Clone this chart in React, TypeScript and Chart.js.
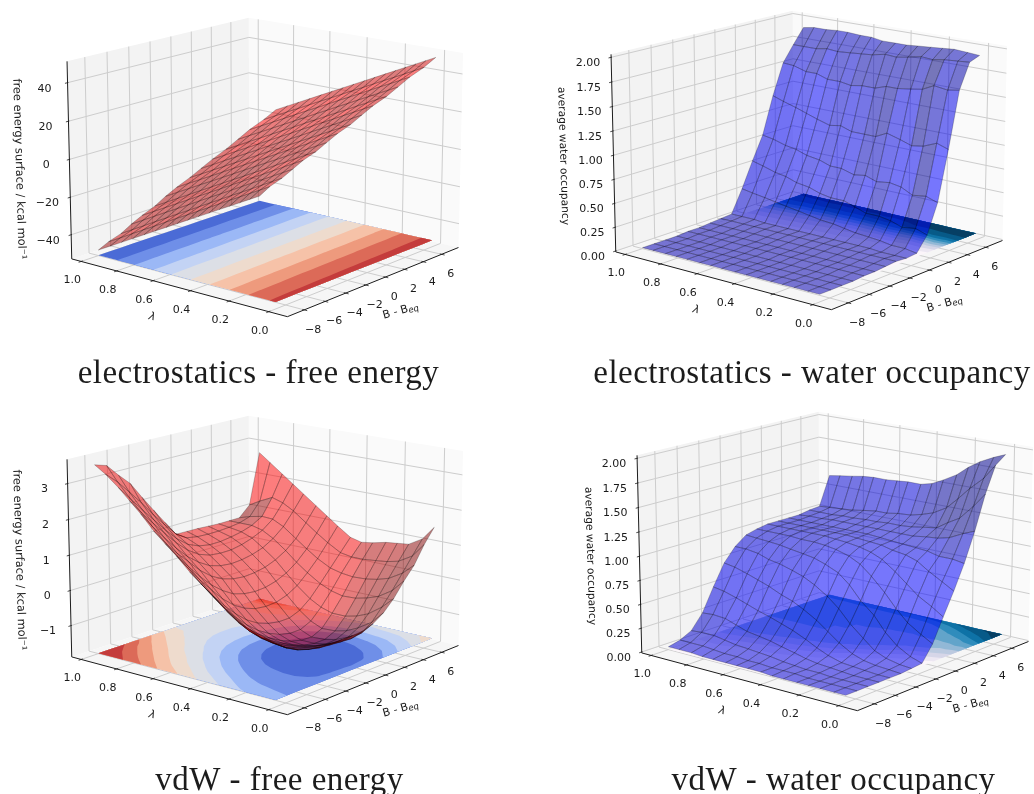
import { useEffect, useRef } from "react";
import { Chart, registerables, ScatterController } from "chart.js";

Chart.register(...registerables);

// ---------- data ----------
const lambdaValues = [0.05, 0.11, 0.18, 0.24, 0.3, 0.37, 0.43, 0.49, 0.56, 0.62, 0.68, 0.75, 0.81, 0.87, 0.94, 1.0];
const bValues = [-8, -6.93, -5.87, -4.8, -3.73, -2.67, -1.6, -0.53, 0.53, 1.6, 2.67, 3.73, 4.8, 5.87, 6.93, 8];

const elecEnergy = [
  [43, 43.2, 43.4, 43.6, 43.8, 44, 44.2, 44.4, 44.6, 44.8, 45, 45.2, 45.4, 45.6, 45.8, 46],
  [37, 37.2, 37.4, 37.5, 37.7, 37.9, 38, 38.2, 38.4, 38.5, 38.7, 38.9, 39, 39.2, 39.4, 39.6],
  [30.7, 30.9, 31, 31.2, 31.4, 31.6, 31.7, 31.9, 32.1, 32.2, 32.4, 32.6, 32.8, 32.9, 33.1, 33.3],
  [24.6, 24.8, 24.9, 25.1, 25.2, 25.4, 25.5, 25.7, 25.8, 26, 26.1, 26.3, 26.4, 26.6, 26.7, 26.9],
  [18.5, 18.6, 18.8, 18.9, 19.1, 19.2, 19.3, 19.5, 19.6, 19.8, 19.9, 20, 20.2, 20.3, 20.5, 20.6],
  [12, 12.1, 12.3, 12.4, 12.6, 12.7, 12.9, 13, 13.2, 13.3, 13.5, 13.6, 13.8, 13.9, 14.1, 14.2],
  [6, 6.1, 6.3, 6.4, 6.5, 6.6, 6.8, 6.9, 7, 7.1, 7.3, 7.4, 7.5, 7.6, 7.8, 7.9],
  [0, 0.1, 0.2, 0.3, 0.4, 0.5, 0.6, 0.7, 0.8, 0.9, 1, 1.1, 1.2, 1.3, 1.4, 1.5],
  [-6.5, -6.4, -6.3, -6.2, -6.1, -6, -5.9, -5.8, -5.7, -5.6, -5.5, -5.4, -5.3, -5.1, -5, -4.9],
  [-12.5, -12.4, -12.3, -12.2, -12.2, -12.1, -12, -11.9, -11.8, -11.8, -11.7, -11.6, -11.5, -11.4, -11.3, -11.2],
  [-19, -18.9, -18.8, -18.7, -18.6, -18.5, -18.4, -18.3, -18.3, -18.2, -18.1, -18, -17.9, -17.8, -17.7, -17.6],
  [-25.5, -25.4, -25.3, -25.2, -25.1, -25, -24.9, -24.8, -24.7, -24.6, -24.5, -24.4, -24.3, -24.1, -24, -23.9],
  [-31.5, -31.4, -31.3, -31.2, -31.2, -31.1, -31, -30.9, -30.9, -30.8, -30.7, -30.6, -30.6, -30.5, -30.4, -30.3],
  [-38, -37.9, -37.8, -37.7, -37.6, -37.5, -37.5, -37.4, -37.3, -37.2, -37.1, -37.1, -37, -36.9, -36.8, -36.7],
  [-44, -44, -43.9, -43.8, -43.8, -43.7, -43.6, -43.6, -43.5, -43.5, -43.4, -43.3, -43.3, -43.2, -43.2, -43.1],
  [-50, -50, -50, -50, -50, -50, -50, -50, -50, -50, -50, -50, -50, -50, -50, -50],
];

const elecWater = [
  [0, 0, 0, 0, 0.01, 0.01, 0.02, 0.03, 0.02, 0.03, 0.18, 0.48, 1.0, 1.58, 1.84, 1.88],
  [0, 0, 0, 0, 0.01, 0.01, 0.02, 0.03, 0.02, 0.05, 0.22, 0.52, 1.04, 1.56, 1.83, 1.89],
  [0, 0, 0, 0, 0.01, 0.01, 0.02, 0.03, 0.02, 0.05, 0.2, 0.5, 0.98, 1.58, 1.82, 1.9],
  [0, 0, 0, 0, 0.01, 0.01, 0.02, 0.03, 0.03, 0.07, 0.24, 0.56, 0.96, 1.52, 1.8, 1.89],
  [0, 0, 0, 0, 0.01, 0.01, 0.02, 0.03, 0.03, 0.08, 0.26, 0.58, 1.0, 1.5, 1.81, 1.88],
  [0, 0, 0, 0, 0.01, 0.01, 0.02, 0.03, 0.03, 0.09, 0.26, 0.56, 1.04, 1.48, 1.78, 1.87],
  [0, 0, 0, 0, 0.01, 0.01, 0.02, 0.03, 0.03, 0.11, 0.3, 0.6, 0.98, 1.48, 1.76, 1.86],
  [0, 0, 0, 0, 0.01, 0.01, 0.02, 0.03, 0.03, 0.13, 0.34, 0.58, 0.98, 1.44, 1.77, 1.86],
  [0, 0, 0, 0, 0.01, 0.01, 0.02, 0.03, 0.03, 0.14, 0.34, 0.62, 0.98, 1.44, 1.74, 1.86],
  [0, 0, 0, 0, 0.01, 0.01, 0.02, 0.03, 0.03, 0.16, 0.36, 0.62, 1.02, 1.42, 1.73, 1.88],
  [0, 0, 0, 0, 0.01, 0.01, 0.02, 0.03, 0.03, 0.18, 0.4, 0.66, 1.0, 1.44, 1.72, 1.88],
  [0, 0, 0, 0, 0.01, 0.01, 0.02, 0.03, 0.03, 0.2, 0.42, 0.68, 1.04, 1.44, 1.71, 1.89],
  [0, 0, 0, 0, 0.01, 0.01, 0.02, 0.03, 0.03, 0.22, 0.46, 0.72, 1.08, 1.48, 1.72, 1.89],
  [0, 0, 0, 0, 0.01, 0.01, 0.02, 0.03, 0.04, 0.24, 0.48, 0.74, 1.12, 1.48, 1.7, 1.88],
  [0, 0, 0, 0, 0.01, 0.01, 0.02, 0.03, 0.04, 0.26, 0.52, 0.78, 1.16, 1.52, 1.7, 1.88],
  [0, 0, 0, 0, 0.01, 0.01, 0.02, 0.03, 0.04, 0.28, 0.55, 0.8, 1.2, 1.53, 1.7, 1.86],
];

const vdwEnergy = [
  [-0.35, -0.6, -0.75, -0.85, -0.9, -0.92, -0.92, -0.92, -0.9, -0.8, -0.6, -0.3, 0.1, 0.45, 0.95, 1.35],
  [-0.27, -0.55, -0.78, -0.95, -1.05, -1.12, -1.15, -1.18, -1.2, -1.15, -0.95, -0.62, -0.25, 0.15, 0.55, 0.95],
  [-0.15, -0.48, -0.74, -0.96, -1.1, -1.2, -1.28, -1.34, -1.38, -1.36, -1.2, -0.9, -0.5, -0.08, 0.32, 0.72],
  [-0.03, -0.38, -0.68, -0.92, -1.1, -1.24, -1.36, -1.46, -1.52, -1.5, -1.36, -1.04, -0.62, -0.18, 0.24, 0.68],
  [0.2, -0.2, -0.56, -0.85, -1.06, -1.24, -1.4, -1.52, -1.58, -1.58, -1.44, -1.12, -0.7, -0.24, 0.2, 0.64],
  [0.52, 0.08, -0.32, -0.68, -0.96, -1.18, -1.36, -1.5, -1.58, -1.6, -1.46, -1.12, -0.72, -0.26, 0.16, 0.55],
  [0.78, 0.34, -0.08, -0.46, -0.78, -1.04, -1.24, -1.38, -1.46, -1.46, -1.32, -1.02, -0.64, -0.22, 0.16, 0.5],
  [1.04, 0.6, 0.18, -0.2, -0.54, -0.82, -1.02, -1.14, -1.2, -1.2, -1.08, -0.84, -0.5, -0.14, 0.22, 0.58],
  [1.4, 0.96, 0.54, 0.16, -0.2, -0.48, -0.68, -0.8, -0.84, -0.82, -0.72, -0.54, -0.26, 0.06, 0.44, 0.84],
  [1.67, 1.24, 0.84, 0.46, 0.12, -0.14, -0.34, -0.44, -0.48, -0.46, -0.38, -0.24, -0.02, 0.28, 0.66, 1.08],
  [1.95, 1.52, 1.14, 0.8, 0.46, 0.2, 0.02, -0.08, -0.12, -0.1, -0.04, 0.08, 0.26, 0.52, 0.9, 1.32],
  [2.35, 1.9, 1.5, 1.12, 0.78, 0.52, 0.32, 0.22, 0.18, 0.2, 0.26, 0.36, 0.54, 0.8, 1.18, 1.6],
  [2.65, 2.22, 1.84, 1.46, 1.1, 0.8, 0.58, 0.46, 0.42, 0.42, 0.48, 0.58, 0.72, 0.96, 1.36, 1.84],
  [2.95, 2.55, 2.16, 1.78, 1.4, 1.06, 0.8, 0.66, 0.6, 0.6, 0.64, 0.7, 0.8, 0.98, 1.46, 2.08],
  [3.25, 2.95, 2.58, 2.2, 1.78, 1.4, 1.04, 0.82, 0.76, 0.74, 0.74, 0.76, 0.8, 0.9, 1.28, 2.36],
  [3.45, 3.35, 3.0, 2.68, 2.2, 1.75, 1.3, 0.86, 0.85, 0.84, 0.82, 0.8, 0.8, 0.8, 1.1, 2.6],
];

const vdwWater = [
  [0, 0, 0, 0, 0, 0, 0.01, 0.02, 0.18, 0.42, 0.65, 0.9, 1.2, 1.55, 1.82, 1.9],
  [0, 0, 0, 0, 0, 0.01, 0.02, 0.06, 0.25, 0.5, 0.72, 0.92, 1.15, 1.4, 1.66, 1.85],
  [0, 0, 0, 0, 0.01, 0.02, 0.05, 0.14, 0.34, 0.58, 0.8, 0.92, 1.08, 1.25, 1.53, 1.78],
  [0, 0, 0, 0.01, 0.02, 0.04, 0.1, 0.25, 0.46, 0.68, 0.88, 0.95, 1.05, 1.18, 1.4, 1.7],
  [0, 0, 0.01, 0.02, 0.03, 0.08, 0.2, 0.4, 0.6, 0.78, 0.92, 0.96, 1.04, 1.1, 1.28, 1.6],
  [0, 0.01, 0.01, 0.03, 0.07, 0.16, 0.32, 0.52, 0.74, 0.88, 0.94, 0.97, 1.02, 1.08, 1.2, 1.52],
  [0, 0.01, 0.02, 0.05, 0.12, 0.25, 0.45, 0.66, 0.84, 0.93, 0.97, 0.98, 1.02, 1.06, 1.16, 1.46],
  [0.01, 0.01, 0.03, 0.08, 0.18, 0.34, 0.55, 0.76, 0.9, 0.96, 0.98, 0.99, 1.02, 1.05, 1.13, 1.43],
  [0.01, 0.02, 0.05, 0.11, 0.24, 0.42, 0.64, 0.82, 0.94, 0.98, 0.99, 1, 1.02, 1.05, 1.12, 1.43],
  [0.01, 0.02, 0.06, 0.14, 0.28, 0.48, 0.7, 0.86, 0.96, 0.99, 1, 1, 1.02, 1.04, 1.1, 1.42],
  [0.01, 0.03, 0.07, 0.16, 0.32, 0.52, 0.74, 0.88, 0.97, 1, 1, 1, 1.02, 1.04, 1.1, 1.41],
  [0.01, 0.03, 0.08, 0.18, 0.36, 0.58, 0.78, 0.9, 0.97, 1, 1, 1, 1.02, 1.03, 1.08, 1.41],
  [0.01, 0.04, 0.1, 0.22, 0.4, 0.62, 0.8, 0.92, 0.98, 1, 1, 1, 1.02, 1.03, 1.06, 1.4],
  [0.02, 0.05, 0.12, 0.26, 0.44, 0.66, 0.84, 0.93, 0.98, 1, 1, 1, 1.01, 1.02, 1.05, 1.38],
  [0.02, 0.05, 0.12, 0.27, 0.48, 0.7, 0.86, 0.94, 0.98, 1, 1, 1, 1.01, 1.02, 1.04, 1.36],
  [0.02, 0.05, 0.11, 0.26, 0.5, 0.72, 0.86, 0.95, 0.98, 1, 1, 1, 1, 1.02, 1.03, 1.34],
];

const bTicks = [-8, -6, -4, -2, 0, 2, 4, 6];
const lambdaTicks = [0, 0.2, 0.4, 0.6, 0.8, 1.0];
const elecEnergyTicks = [-40, -20, 0, 20, 40];
const vdwEnergyTicks = [-1, 0, 1, 2, 3];
const waterTicks = [0, 0.25, 0.5, 0.75, 1, 1.25, 1.5, 1.75, 2];

const coolwarmBands = ["#4b6bd6", "#6f8fe8", "#9bb8f6", "#c3d3f4", "#dcdfe6", "#eedbcd", "#f6c2a8", "#ee9a7d", "#dc6a58", "#c43c3c"];
const puBuBands = ["#fbf5fa", "#ece7f2", "#d6d6e8", "#bccae0", "#92b8d6", "#62a4ca", "#2f8cbc", "#0e72a6", "#075a88", "#063f64"];
const elecEnergyLevels = [-99, -40, -30, -20, -10, 0, 10, 20, 30, 40];
const vdwEnergyLevels = [-99, -1.1, -0.6, -0.1, 0.4, 0.9, 1.4, 1.9, 2.4, 2.9];
const waterLevels = [-9, 0.2, 0.4, 0.6, 0.8, 1.0, 1.2, 1.4, 1.6, 1.8];

// ---------- fixed view of the 3D axes ----------
const B_LIM = [-9.57, 7.87];
const L_LIM = [-0.092, 1.054];
const ELEV = (15 * Math.PI) / 180;
const THETA = (39.4 * Math.PI) / 180;
const DIST = 8;
const SCALE = 278;
const CX = 266.7;
const CY = 156.3;
const Z_HALF = 0.365;
const CANVAS_W = 517;
const CANVAS_H = 397;

const fwd = [Math.cos(THETA) * Math.cos(ELEV), Math.sin(THETA) * Math.cos(ELEV), -Math.sin(ELEV)];
const rgt = [Math.sin(THETA), -Math.cos(THETA), 0];
const upv = [Math.cos(THETA) * Math.sin(ELEV), Math.sin(THETA) * Math.sin(ELEV), Math.cos(ELEV)];

function dot(a: number[], b: number[]) {
  return a[0] * b[0] + a[1] * b[1] + a[2] * b[2];
}

type Panel = {
  title: string;
  titleX: number;
  titleY: number;
  zLabel: string;
  zLabelX: number;
  zLabelY: number;
  zLabelFont: number;
  left: number;
  top: number;
  dx: number;
  dy: number;
  z: number[][];
  zLim: number[];
  zTicks: number[];
  zFmt: (v: number) => string;
  levels: number[];
  bands: string[];
  rgb: number[];
  alpha: number;
};

const panels: Panel[] = [
  {
    title: "electrostatics - free energy", titleX: 258.5, titleY: 383,
    zLabel: "free energy surface / kcal mol⁻¹", zLabelX: 19, zLabelY: 169, zLabelFont: 11.4,
    left: 0, top: 0, dx: 0, dy: 0,
    z: elecEnergy, zLim: [-53, 51], zTicks: elecEnergyTicks, zFmt: (v) => String(v).replace("-", "−"),
    levels: elecEnergyLevels, bands: coolwarmBands, rgb: [255, 0, 0], alpha: 0.5,
  },
  {
    title: "electrostatics - water occupancy", titleX: 812, titleY: 383,
    zLabel: "average water occupancy", zLabelX: 563, zLabelY: 156, zLabelFont: 10.7,
    left: 517, top: 0, dx: 27, dy: -7,
    z: elecWater, zLim: [-0.01, 2.03], zTicks: waterTicks, zFmt: (v) => v.toFixed(2),
    levels: waterLevels, bands: puBuBands, rgb: [0, 0, 255], alpha: 0.53,
  },
  {
    title: "vdW - free energy", titleX: 279.5, titleY: 790,
    zLabel: "free energy surface / kcal mol⁻¹", zLabelX: 19, zLabelY: 560, zLabelFont: 11.4,
    left: 0, top: 397, dx: 0, dy: 1,
    z: vdwEnergy, zLim: [-1.9, 3.67], zTicks: vdwEnergyTicks, zFmt: (v) => String(v).replace("-", "−"),
    levels: vdwEnergyLevels, bands: coolwarmBands, rgb: [255, 0, 0], alpha: 0.5,
  },
  {
    title: "vdW - water occupancy", titleX: 833.5, titleY: 790,
    zLabel: "average water occupancy", zLabelX: 590, zLabelY: 556, zLabelFont: 10.7,
    left: 517, top: 397, dx: 53, dy: -3,
    z: vdwWater, zLim: [-0.01, 2.03], zTicks: waterTicks, zFmt: (v) => v.toFixed(2),
    levels: waterLevels, bands: puBuBands, rgb: [0, 0, 255], alpha: 0.53,
  },
];

// ---------- a dataset type that fills and strokes groups of its own points ----------
class Mesh3DController extends ScatterController {
  static id = "mesh3d";
  static defaults = { ...ScatterController.defaults };
  draw() {
    const chart: any = (this as any).chart;
    const ctx = chart.ctx;
    const pts: any[] = (this as any).getMeta().data;
    const ds: any = (this as any).getDataset();
    ctx.save();
    ctx.lineJoin = "round";
    for (const g of ds.groups) {
      ctx.beginPath();
      for (const poly of g.polys) {
        ctx.moveTo(pts[poly[0]].x, pts[poly[0]].y);
        for (let k = 1; k < poly.length; k++) ctx.lineTo(pts[poly[k]].x, pts[poly[k]].y);
        if (g.closed) ctx.closePath();
      }
      if (g.fill) {
        ctx.fillStyle = g.fill;
        ctx.fill();
      }
      if (g.stroke) {
        ctx.strokeStyle = g.stroke;
        ctx.lineWidth = g.width;
        ctx.stroke();
      }
    }
    ctx.restore();
  }
}
Chart.register(Mesh3DController as any);

function buildPanel(panel: Panel) {
  const [bMin, bMax] = B_LIM;
  const [lMin, lMax] = L_LIM;
  const [zMin, zMax] = panel.zLim;
  const U = (b: number) => (b - bMin) / (bMax - bMin);
  const V = (l: number) => (l - lMin) / (lMax - lMin);
  const W = (z: number) => (z - zMin) / (zMax - zMin);

  const project = (u: number, v: number, w: number) => {
    const p = [u - 0.5, v - 0.5, (w - 0.5) * 2 * Z_HALF];
    const r = DIST / (DIST + dot(p, fwd));
    return {
      x: CX + panel.dx + SCALE * dot(p, rgt) * r,
      y: CY + panel.dy - SCALE * dot(p, upv) * r,
      depth: dot(p, fwd),
    };
  };

  const makeDataset = (label: string, order: number) => {
    const data: { x: number; y: number }[] = [];
    const groups: any[] = [];
    const add = (pts: { x: number; y: number }[]) => {
      const idx: number[] = [];
      for (const p of pts) {
        idx.push(data.length);
        data.push({ x: p.x, y: p.y });
      }
      return idx;
    };
    return { ds: { type: "mesh3d", label, order, data, groups, pointRadius: 0 } as any, add, groups };
  };

  // panes
  const panes = makeDataset("panes", 5);
  const pane = (corners: number[][], fill: string) => {
    panes.groups.push({ closed: true, fill, polys: [panes.add(corners.map((c) => project(c[0], c[1], c[2])))] });
  };
  pane([[0, 1, 0], [1, 1, 0], [1, 1, 1], [0, 1, 1]], "#f3f3f3");
  pane([[1, 1, 0], [1, 0, 0], [1, 0, 1], [1, 1, 1]], "#fafafa");
  pane([[0, 0, 0], [1, 0, 0], [1, 1, 0], [0, 1, 0]], "#f6f6f6");

  // grid lines
  const grid = makeDataset("grid", 4);
  const gridPolys: number[][] = [];
  const seg = (a: number[], b: number[]) => gridPolys.push(grid.add([project(a[0], a[1], a[2]), project(b[0], b[1], b[2])]));
  for (const b of bTicks) {
    seg([U(b), 1, 0], [U(b), 1, 1]);
    seg([U(b), 0, 0], [U(b), 1, 0]);
  }
  for (const l of lambdaTicks) {
    seg([1, V(l), 0], [1, V(l), 1]);
    seg([0, V(l), 0], [1, V(l), 0]);
  }
  for (const z of panel.zTicks) {
    seg([0, 1, W(z)], [1, 1, W(z)]);
    seg([1, 1, W(z)], [1, 0, W(z)]);
  }
  grid.groups.push({ stroke: "#cdcdcd", width: 1, polys: gridPolys });

  // axes lines and ticks
  const axes = makeDataset("axes", 3);
  const axisPolys: number[][] = [];
  const tickPolys: number[][] = [];
  const line = (list: number[][], a: number[], b: number[]) =>
    list.push(axes.add([project(a[0], a[1], a[2]), project(b[0], b[1], b[2])]));
  line(axisPolys, [0, 1, 0], [0, 1, 1]);
  line(axisPolys, [0, 1, 0], [0, 0, 0]);
  line(axisPolys, [0, 0, 0], [1, 0, 0]);
  for (const z of panel.zTicks) line(tickPolys, [-0.013, 1, W(z)], [0.004, 1, W(z)]);
  for (const l of lambdaTicks) line(tickPolys, [-0.013, V(l), 0], [0.008, V(l), 0]);
  for (const b of bTicks) line(tickPolys, [U(b), -0.013, 0], [U(b), 0.008, 0]);
  axes.groups.push({ stroke: "#1c1c1c", width: 1, polys: axisPolys });
  axes.groups.push({ stroke: "#1c1c1c", width: 0.8, polys: tickPolys });

  // filled contours on the floor
  const contour = makeDataset("contour", 2);
  const grid3 = panel.z;
  const tri = (a: number[], b: number[], c: number[], level: number) => {
    const input = [a, b, c];
    const out: number[][] = [];
    for (let i = 0; i < 3; i++) {
      const p = input[i];
      const q = input[(i + 1) % 3];
      const pIn = p[2] >= level;
      const qIn = q[2] >= level;
      if (pIn) out.push(p);
      if (pIn !== qIn) {
        const t = (level - p[2]) / (q[2] - p[2]);
        out.push([p[0] + (q[0] - p[0]) * t, p[1] + (q[1] - p[1]) * t, level]);
      }
    }
    return out;
  };
  panel.levels.forEach((level, li) => {
    const polys: number[][] = [];
    for (let j = 0; j < lambdaValues.length - 1; j++) {
      for (let i = 0; i < bValues.length - 1; i++) {
        const p00 = [bValues[i], lambdaValues[j], grid3[j][i]];
        const p10 = [bValues[i + 1], lambdaValues[j], grid3[j][i + 1]];
        const p11 = [bValues[i + 1], lambdaValues[j + 1], grid3[j + 1][i + 1]];
        const p01 = [bValues[i], lambdaValues[j + 1], grid3[j + 1][i]];
        for (const t of [tri(p00, p10, p11, level), tri(p00, p11, p01, level)]) {
          if (t.length >= 3) polys.push(contour.add(t.map((q) => project(U(q[0]), V(q[1]), 0.002))));
        }
      }
    }
    if (polys.length) contour.groups.push({ closed: true, fill: panel.bands[li], polys });
  });

  // the surface, one facet at a time, farthest first
  const surface = makeDataset("surface", 1);
  const L = [-1, -1, 0.5];
  const facets: { depth: number; corners: number[][]; raw: number }[] = [];
  for (let j = 0; j < lambdaValues.length - 1; j++) {
    for (let i = 0; i < bValues.length - 1; i++) {
      const corners = [
        [bValues[i], lambdaValues[j], grid3[j][i]],
        [bValues[i + 1], lambdaValues[j], grid3[j][i + 1]],
        [bValues[i + 1], lambdaValues[j + 1], grid3[j + 1][i + 1]],
        [bValues[i], lambdaValues[j + 1], grid3[j + 1][i]],
      ];
      const a = [corners[2][0] - corners[0][0], corners[2][1] - corners[0][1], corners[2][2] - corners[0][2]];
      const b = [corners[3][0] - corners[1][0], corners[3][1] - corners[1][1], corners[3][2] - corners[1][2]];
      let n = [a[1] * b[2] - a[2] * b[1], a[2] * b[0] - a[0] * b[2], a[0] * b[1] - a[1] * b[0]];
      const len = Math.hypot(n[0], n[1], n[2]) || 1;
      n = n.map((c) => c / len);
      if (n[2] < 0) n = n.map((c) => -c);
      const projected = corners.map((c) => project(U(c[0]), V(c[1]), W(c[2])));
      const depth = projected.reduce((s, p) => s + p.depth, 0) / 4;
      facets.push({ depth, corners, raw: dot(n, L) });
    }
  }
  facets.sort((p, q) => q.depth - p.depth);
  const rawMin = Math.min(...facets.map((f) => f.raw));
  const rawMax = Math.max(...facets.map((f) => f.raw));
  for (const f of facets) {
    const norm = rawMax > rawMin ? (f.raw - rawMin) / (rawMax - rawMin) : 0.5;
    const shade = 0.5 + 0.5 * norm;
    const c = panel.rgb.map((v) => Math.round(v * shade));
    surface.groups.push({
      closed: true,
      fill: `rgba(${c[0]},${c[1]},${c[2]},${panel.alpha})`,
      stroke: "rgba(0,0,0,0.4)",
      width: 0.55,
      polys: [surface.add(f.corners.map((q) => project(U(q[0]), V(q[1]), W(q[2]))))],
    });
  }

  return { project, U, V, W, datasets: [panes.ds, grid.ds, axes.ds, contour.ds, surface.ds] };
}

function drawTexts(ctx: CanvasRenderingContext2D, panel: Panel, built: ReturnType<typeof buildPanel>) {
  const { project, U, V, W } = built;
  ctx.save();
  ctx.fillStyle = "#1a1a1a";
  ctx.textAlign = "center";
  ctx.textBaseline = "middle";
  ctx.font = '11px "DejaVu Sans"';
  for (const z of panel.zTicks) {
    const p = project(0, 1, W(z));
    ctx.fillText(panel.zFmt(z), p.x - 23, p.y + 6);
  }
  for (const l of lambdaTicks) {
    const p = project(0, V(l), 0);
    ctx.fillText(l.toFixed(1), p.x - 9, p.y + 19);
  }
  for (const b of bTicks) {
    const p = project(U(b), 0, 0);
    ctx.fillText(String(b).replace("-", "−"), p.x + 9, p.y + 20);
  }
  // z axis title
  ctx.save();
  ctx.translate(panel.zLabelX - panel.left, panel.zLabelY - panel.top);
  ctx.rotate(Math.PI / 2 - 0.03);
  ctx.font = `${panel.zLabelFont}px "DejaVu Sans"`;
  ctx.fillText(panel.zLabel, 0, 0);
  ctx.restore();
  // lambda axis title
  ctx.save();
  ctx.translate(152 + panel.dx, 317 + panel.dy);
  ctx.rotate(0.25);
  ctx.font = 'italic 11px "DejaVu Sans"';
  ctx.fillText("λ", 0, 0);
  ctx.restore();
  // B axis title
  ctx.save();
  ctx.translate(383 + panel.dx, 316 + panel.dy);
  ctx.rotate(-0.27);
  ctx.textAlign = "left";
  ctx.font = '11px "DejaVu Sans"';
  ctx.fillText("B - B", 0, 0);
  const w = ctx.measureText("B - B").width;
  ctx.font = 'italic 8.5px "DejaVu Sans"';
  ctx.fillText("eq", w, 2);
  ctx.restore();
  // panel caption
  ctx.fillStyle = "#1c1c1c";
  ctx.textBaseline = "alphabetic";
  ctx.font = '33px "Liberation Serif"';
  (ctx as any).letterSpacing = "0.47px";
  ctx.fillText(panel.title, panel.titleX - panel.left, panel.titleY - panel.top);
  (ctx as any).letterSpacing = "0px";
  ctx.restore();
}

function Panel3D({ panel }: { panel: Panel }) {
  const ref = useRef<HTMLCanvasElement>(null);
  useEffect(() => {
    const built = buildPanel(panel);
    const chart = new Chart(ref.current as HTMLCanvasElement, {
      type: "scatter",
      data: { datasets: built.datasets },
      options: {
        animation: false,
        responsive: false,
        events: [],
        layout: { padding: 0 },
        scales: {
          x: { type: "linear", min: 0, max: CANVAS_W, display: false },
          y: { type: "linear", min: 0, max: CANVAS_H, reverse: true, display: false },
        },
        plugins: { legend: { display: false }, tooltip: { enabled: false } },
      },
      plugins: [
        {
          id: "axisText",
          afterDatasetsDraw(c: any) {
            drawTexts(c.ctx, panel, built);
          },
        },
      ],
    } as any);
    return () => chart.destroy();
  }, [panel]);
  return (
    <canvas
      ref={ref}
      width={CANVAS_W}
      height={CANVAS_H}
      style={{ position: "absolute", left: panel.left, top: panel.top, width: CANVAS_W, height: CANVAS_H, display: "block", filter: "blur(0.45px)" }}
    />
  );
}

export default function App() {
  return (
    <div style={{ position: "fixed", left: 0, top: 0, width: 1034, height: 794, background: "#fff", overflow: "hidden" }}>
      {panels.map((p) => (
        <Panel3D key={p.title} panel={p} />
      ))}
    </div>
  );
}
